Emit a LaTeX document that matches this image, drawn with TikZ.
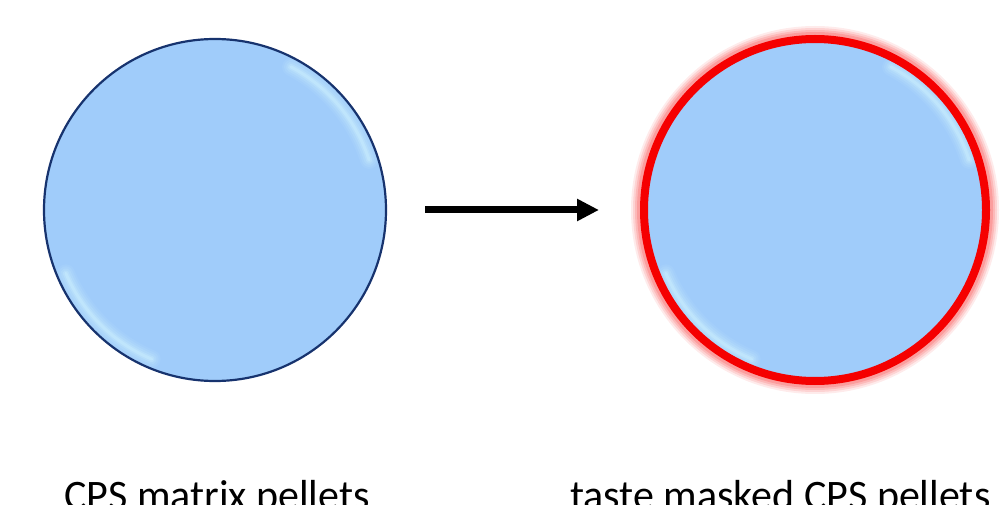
\documentclass[tikz,border=0pt]{standalone}
\usepackage{xcolor}
\usepackage{fontspec}
\setmainfont{Carlito}
\usepackage{tikz}
\usetikzlibrary{arrows.meta}

\definecolor{pelletblue}{RGB}{160,204,250}
\definecolor{pelletline}{RGB}{23,51,110}
\definecolor{sheen}{RGB}{215,250,255}
\definecolor{coatred}{RGB}{245,0,0}

\tikzset{
    pellet/.style={circle, minimum size=342pt, inner sep=0pt, fill=pelletblue,
        path picture={
            \foreach \w/\o in {18/0.08, 14/0.1, 10/0.14, 6/0.2, 3/0.25} {
                \draw[sheen, line width=\w pt, opacity=\o, line cap=round]
                    (path picture bounding box.center) ++(18:162) arc[start angle=18, end angle=62, radius=162pt];
                \draw[sheen, line width=\w pt, opacity=\o, line cap=round]
                    (path picture bounding box.center) ++(203:162) arc[start angle=203, end angle=247, radius=162pt];
            }
        }},
    caption/.style={font=\fontsize{42}{50}\selectfont, inner sep=0pt, anchor=base west}
}

\begin{document}
\begin{tikzpicture}[
    x=1pt, y=1pt,
    >={Triangle[length=22pt, width=21pt]}
]
\useasboundingbox (0,0) rectangle (1001,504);

\node[pellet, draw=pelletline, line width=2.2pt] (matrix) at (215, 294) {};

\foreach \w/\o in {26/0.08, 22/0.1, 18/0.12, 14/0.15} {
    \draw[coatred, line width=\w pt, opacity=\o] (815, 294) circle[radius=171pt];
}
\node[pellet, draw=coatred, line width=8pt] (masked) at (815, 294) {};

\draw[->, line width=7pt, shorten <=38pt, shorten >=41pt] (matrix.east) -- (masked.west);

\node[caption] (matrixlbl) at (64, -5.5) {CPS matrix pellets};
\node[caption] (maskedlbl) at (570, -5.5) {taste masked CPS pellets};

\end{tikzpicture}
\end{document}
